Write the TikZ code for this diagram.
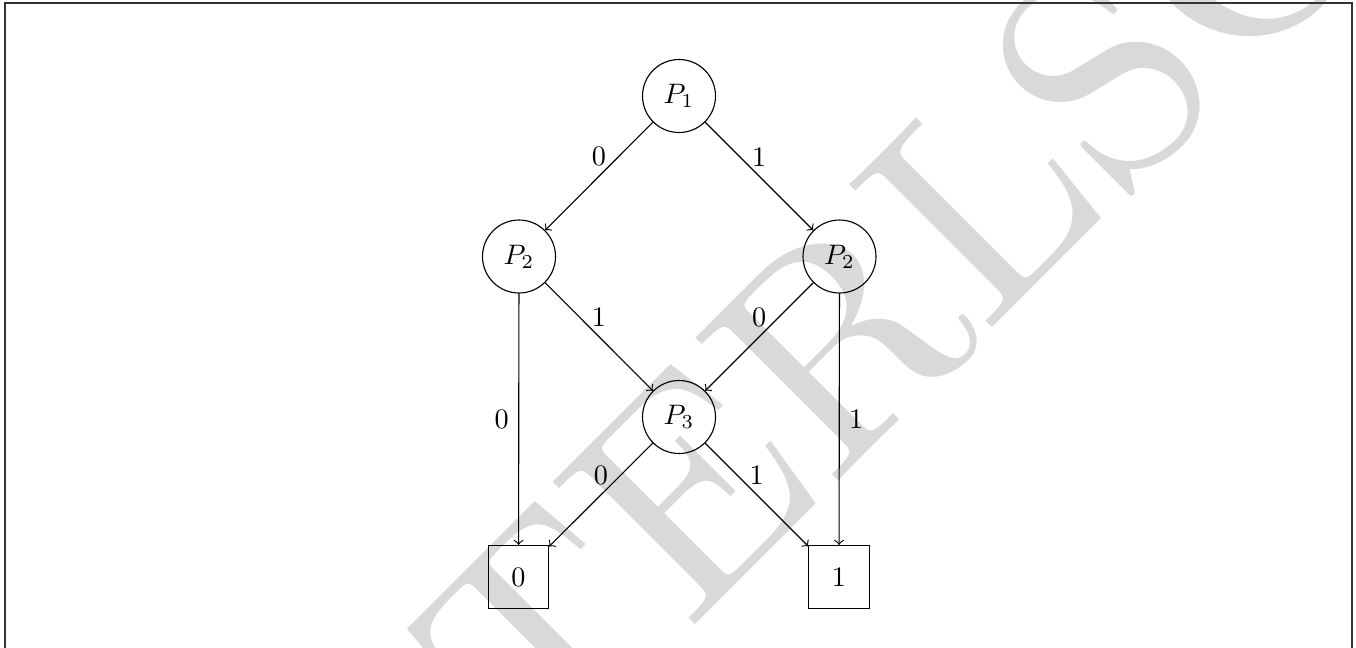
\documentclass[tikz,border=0pt]{standalone}
\usepackage{fontspec}
\newfontfamily\wmfont{lmroman10-regular.otf}
\definecolor{wmgray}{HTML}{D9D9D9}
\definecolor{framegray}{HTML}{333333}
\begin{document}
\begin{tikzpicture}[x=0.012461cm,y=-0.012461cm,>=to,
  state/.style={circle,draw,minimum size=0.91cm,inner sep=0pt},
  leaf/.style={rectangle,draw,minimum width=0.75cm,minimum height=0.785cm,inner sep=0pt},
  wmtext/.style={text=wmgray,rotate=45,anchor=base west,inner sep=0pt,font=\wmfont\fontsize{105}{105}\selectfont},
  frameline/.style={draw=framegray,line width=0.6pt},
  lbl/.style={midway}]
\useasboundingbox (0,0) rectangle (1356,647);
\clip (0,0) rectangle (1356,647);
\node[wmtext] (wm) at (537,783) {TERLSC};
\draw[frameline] (5.3,2.7) rectangle (1352.3,720);
\node[state] (p1) at (679,96) {$P_1$};
\node[state] (p2a) at (519,256.5) {$P_2$};
\node[state] (p2b) at (839.5,256.5) {$P_2$};
\node[state] (p3) at (679,417) {$P_3$};
\node[leaf] (b0) at (518.5,577) {0};
\node[leaf] (b1) at (839,577) {1};
\draw[->] (p1) -- node[lbl,above] {0} (p2a);
\draw[->] (p1) -- node[lbl,above] {1} (p2b);
\draw[->] (p2a) -- node[lbl,above] {1} (p3);
\draw[->] (p2b) -- node[lbl,above] {0} (p3);
\draw[->] (p2a) -- node[lbl,left] {0} (b0);
\draw[->] (p2b) -- node[lbl,right] {1} (b1);
\draw[->] (p3) -- node[lbl,above] {0} (b0);
\draw[->] (p3) -- node[lbl,above] {1} (b1);
\end{tikzpicture}
\end{document}
